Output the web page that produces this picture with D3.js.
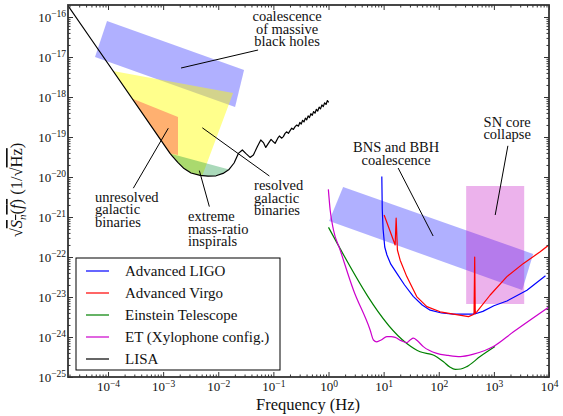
<!DOCTYPE html>
<html>
<head>
<meta charset="utf-8">
<script src="https://cdn.jsdelivr.net/npm/d3@7"></script>
<style>
  body { margin: 0; background: #fff; }
</style>
</head>
<body>
<svg id="chart" width="563" height="416"></svg>
<script>
// all points are [log10(frequency / Hz), log10(sqrt(Sn))]

const lisa = [[-4.8,-15.57],[-4.296,-16.575],[-2.966,-19.228],[-2.875,-19.41],[-2.838,-19.47],[-2.730,-19.64],
  [-2.621,-19.79],[-2.494,-19.90],[-2.33,-19.96],[-2.185,-19.98],[-2.04,-19.97],[-1.913,-19.91],[-1.804,-19.81],
  [-1.713,-19.65],[-1.635,-19.41],[-1.563,-19.325],[-1.501,-19.41],[-1.423,-19.51],[-1.363,-19.45],[-1.290,-19.24],
  [-1.229,-19.075],[-1.181,-19.14],[-1.138,-19.26],[-1.091,-19.16],[-1.042,-19.06],[-1.000,-19.12],[-0.969,-19.16],
  [-0.920,-19.03],[-0.891,-18.975],[-0.848,-19.03],[-0.819,-18.99],[-0.788,-18.91],[-0.757,-18.87],[-0.728,-18.91],
  [-0.697,-18.84],[-0.667,-18.78],[-0.637,-18.81],[-0.606,-18.74],[-0.576,-18.70],[-0.546,-18.73],
  [-0.52,-18.637],[-0.495,-18.679],[-0.47,-18.582],[-0.445,-18.624],[-0.42,-18.527],[-0.395,-18.570],
  [-0.37,-18.472],[-0.345,-18.515],[-0.32,-18.418],[-0.295,-18.460],[-0.27,-18.363],[-0.245,-18.405],
  [-0.22,-18.308],[-0.195,-18.351],[-0.17,-18.253],[-0.145,-18.296],[-0.12,-18.199],[-0.095,-18.241],
  [-0.07,-18.144],[-0.045,-18.187],[-0.02,-18.089],[0.005,-18.132]];

const advLigo = [[0.967,-19.99],[0.975,-20.8],[0.99,-21.3],[1.02,-21.75],[1.06,-21.95],[1.13,-22.18],[1.24,-22.41],
  [1.38,-22.70],[1.541,-22.99],[1.70,-23.20],[1.844,-23.33],[2.05,-23.40],[2.267,-23.43],[2.64,-23.43],[2.655,-23.34],
  [2.665,-23.42],[2.8,-23.36],[3.0,-23.22],[3.236,-23.10],[3.6,-22.83],[3.936,-22.47]];

const advVirgo = [[1.009,-20.95],[1.209,-21.70],[1.227,-21.03],[1.25,-21.825],[1.30,-22.08],[1.42,-22.49],
  [1.60,-22.99],[1.784,-23.24],[2.025,-23.37],[2.267,-23.43],[2.54,-23.49],[2.64,-23.43],[2.652,-22.0],
  [2.662,-23.41],[2.69,-23.37],[2.933,-22.95],[3.236,-22.49],[3.537,-22.16],[3.84,-21.87],[4.02,-21.675]];

const einstein = [[0.0,-21.26],[1.42,-24.16],[1.662,-24.37],[1.90,-24.45],[2.086,-24.62],[2.20,-24.75],
  [2.30,-24.81],[2.40,-24.80],[2.51,-24.74],[2.75,-24.49],[3.02,-24.24]];

const etXylophone = [[-0.003,-20.31],[0.03,-20.825],[0.09,-21.325],[0.211,-21.825],[0.452,-22.825],[0.755,-23.825],
  [0.815,-24.075],[0.875,-24.12],[0.955,-24.075],[1.058,-23.99],[1.136,-23.99],[1.21,-24.01],[1.318,-24.09],
  [1.42,-24.14],[1.48,-24.075],[1.54,-24.03],[1.608,-24.09],[1.72,-24.24],[1.965,-24.41],[2.17,-24.46],
  [2.39,-24.49],[2.63,-24.43],[2.99,-24.24],[3.356,-23.87],[4.01,-23.24]];

// source regions
const massiveBH = [[-4.018,-16.10],[-1.532,-17.325],[-1.695,-18.25],[-4.236,-17.0]];
const resolvedGB = [[-3.909,-17.347],[-1.731,-17.90],[-2.285,-19.95],[-2.33,-19.96],[-2.494,-19.90],[-2.621,-19.79],
  [-2.730,-19.64],[-2.838,-19.47],[-2.875,-19.41],[-2.966,-19.228]];
const unresolvedGB = [[-3.564,-18.035],[-2.730,-18.50],[-2.730,-19.45],[-2.875,-19.41]];
const emri = [[-2.875,-19.41],[-1.804,-19.81],[-1.913,-19.91],[-2.04,-19.97],[-2.185,-19.98],[-2.33,-19.96],
  [-2.494,-19.90],[-2.621,-19.79],[-2.730,-19.64],[-2.838,-19.47]];
const bnsBBH = [[0.265,-20.25],[3.713,-21.925],[3.514,-22.825],[0.011,-21.10]];
const snCollapse = [[2.497,-20.225],[3.55,-20.225],[3.55,-23.175],[2.497,-23.175]];

const seriesNames = ["Advanced LIGO", "Advanced Virgo", "Einstein Telescope", "ET (Xylophone config.)", "LISA"];
const xTickExps = [-4, -3, -2, -1, 0, 1, 2, 3, 4];
const yTickExps = [-25, -24, -23, -22, -21, -20, -19, -18, -17, -16];

const labels = [
  {lines: ["coalescence", "of massive", "black holes"], at: [-0.751, -16.10], anchor: "middle", from: [-2.675, -17.275], to: [-1.278, -16.825]},
  {lines: ["resolved", "galactic", "binaries"], at: [-1.350, -20.325], anchor: "start", from: [-2.289, -18.77], to: [-1.073, -19.975]},
  {lines: ["unresolved", "galactic", "binaries"], at: [-4.236, -20.62], anchor: "start", from: [-2.906, -18.78], to: [-3.541, -20.28]},
  {lines: ["extreme", "mass-ratio", "inspirals"], at: [-2.548, -21.10], anchor: "start", from: [-2.343, -19.84], to: [-2.162, -20.74]},
  {lines: ["BNS and BBH", "coalescence"], at: [1.227, -19.38], anchor: "middle", from: [1.263, -19.775], to: [1.898, -21.475]},
  {lines: ["SN core", "collapse"], at: [3.241, -18.74], anchor: "middle", from: [3.254, -19.22], to: [3.024, -20.95]}
];

const W = 563, H = 416;
const margin = {top: 5, right: 14, bottom: 39, left: 68};
const serif = "Liberation Serif";

const x = d3.scaleLog().domain([Math.pow(10, -4.726), 1e4]).range([margin.left, W - margin.right]);
const y = d3.scaleLog().domain([1e-25, Math.pow(10, -15.7)]).range([H - margin.bottom, margin.top]);
const px = d => x(Math.pow(10, d[0]));
const py = d => y(Math.pow(10, d[1]));

const svg = d3.select("#chart");

svg.append("clipPath").attr("id", "plotClip")
  .append("rect")
  .attr("x", margin.left).attr("y", margin.top)
  .attr("width", W - margin.left - margin.right)
  .attr("height", H - margin.top - margin.bottom);

const plot = svg.append("g").attr("clip-path", "url(#plotClip)");

const poly = d => "M" + d.map(p => px(p) + "," + py(p)).join("L") + "Z";

// regions, in the order they are stacked
const regions = [
  {data: massiveBH, fill: "rgba(0,0,255,0.31)"},
  {data: resolvedGB, fill: "rgba(255,255,0,0.45)"},
  {data: unresolvedGB, fill: "#ffb070"},
  {data: emri, fill: "rgba(6,144,52,0.34)"},
  {data: bnsBBH, fill: "rgba(0,0,255,0.31)"},
  {data: snCollapse, fill: "rgba(191,0,191,0.3)"}
];
regions.forEach(r => {
  plot.append("path").attr("d", poly(r.data)).attr("fill", r.fill).attr("stroke", "none");
});

// pointer lines of the labels
labels.forEach(l => {
  plot.append("line")
    .attr("x1", px(l.from)).attr("y1", py(l.from))
    .attr("x2", px(l.to)).attr("y2", py(l.to))
    .attr("stroke", "#000").attr("stroke-width", 1);
});

const series = [
  {data: advLigo, color: "#0000ff", curve: d3.curveLinear},
  {data: advVirgo, color: "#ff0000", curve: d3.curveLinear},
  {data: einstein, color: "#008000", curve: d3.curveMonotoneX},
  {data: etXylophone, color: "#cc00cc", curve: d3.curveMonotoneX},
  {data: lisa, color: "#000000", curve: d3.curveLinear}
];

series.forEach(s => {
  const line = d3.line().x(px).y(py).curve(s.curve);
  plot.append("path")
    .attr("d", line(s.data))
    .attr("fill", "none")
    .attr("stroke", s.color)
    .attr("stroke-width", 1.2)
    .attr("stroke-linejoin", "round");
});

// text of the labels
labels.forEach(l => {
  l.lines.forEach((s, i) => {
    svg.append("text")
      .attr("x", px(l.at)).attr("y", py(l.at) + i * 12.6)
      .attr("text-anchor", l.anchor)
      .style("font-family", serif)
      .style("font-size", "14.5px")
      .attr("fill", "#111")
      .text(s);
  });
});

// axes
const minorTicks = (lo, hi) => {
  const out = [];
  for (let e = lo; e <= hi; e++) {
    for (let m = 2; m <= 9; m++) out.push(m * Math.pow(10, e));
  }
  return out;
};
const xMajor = xTickExps.map(e => Math.pow(10, e));
const yMajor = yTickExps.map(e => Math.pow(10, e));
const xMinor = minorTicks(-5, 3).filter(v => v >= x.domain()[0] && v <= x.domain()[1]);
const yMinor = minorTicks(-25, -16).filter(v => v >= y.domain()[0] && v <= y.domain()[1]);

const axisColor = "#333";

function drawAxis(axisFn, scale, pos, transform, labelled) {
  const maj = svg.append("g").attr("transform", transform)
    .call(axisFn(scale).tickValues(pos.major).tickSize(-5).tickPadding(4).tickFormat(labelled ? (d => d) : ""));
  const mnr = svg.append("g").attr("transform", transform)
    .call(axisFn(scale).tickValues(pos.minor).tickSize(-2.5).tickFormat(""));
  [maj, mnr].forEach(g => {
    g.select(".domain").remove();
    g.selectAll(".tick line").attr("stroke", axisColor).attr("stroke-width", 1);
  });
  return maj;
}

const bottomAxis = drawAxis(d3.axisBottom, x, {major: xMajor, minor: xMinor}, `translate(0,${H - margin.bottom})`, true);
drawAxis(d3.axisTop, x, {major: xMajor, minor: xMinor}, `translate(0,${margin.top})`, false);
const leftAxis = drawAxis(d3.axisLeft, y, {major: yMajor, minor: yMinor}, `translate(${margin.left},0)`, true);
drawAxis(d3.axisRight, y, {major: yMajor, minor: yMinor}, `translate(${W - margin.right},0)`, false);

function powerLabel(g) {
  g.selectAll(".tick text").each(function (d) {
    const t = d3.select(this);
    const e = Math.round(Math.log10(d));
    t.text(null).style("font-family", serif).style("font-size", "13px").attr("fill", "#111");
    t.append("tspan").text("10");
    t.append("tspan").attr("dy", "-0.45em").style("font-size", "9.5px").text(String(e).replace("-", "\u2212"));
  });
}
powerLabel(bottomAxis);
powerLabel(leftAxis);
bottomAxis.selectAll(".tick text").attr("dy", "0.8em");
leftAxis.selectAll(".tick text").attr("dx", "2px");

svg.append("rect")
  .attr("x", margin.left).attr("y", margin.top)
  .attr("width", W - margin.left - margin.right)
  .attr("height", H - margin.top - margin.bottom)
  .attr("fill", "none").attr("stroke", axisColor).attr("stroke-width", 1.8);

// axis titles
svg.append("text")
  .attr("x", 308).attr("y", 410)
  .attr("text-anchor", "middle").attr("fill", "#111")
  .style("font-family", serif).style("font-size", "16.5px")
  .text("Frequency (Hz)");

const yl = svg.append("text")
  .attr("transform", "translate(22,190) rotate(-90)")
  .style("font-family", serif).style("font-size", "16.5px")
  .attr("text-anchor", "middle").attr("fill", "#111");
yl.append("tspan").text("\u221A");
const rad = yl.append("tspan").style("text-decoration", "overline");
rad.append("tspan").style("font-style", "italic").text("S");
rad.append("tspan").style("font-style", "italic").style("font-size", "11px").attr("dy", 4).text("n");
rad.append("tspan").attr("dy", -4).text("(");
rad.append("tspan").style("font-style", "italic").text("f");
rad.append("tspan").text(")");
yl.append("tspan").text(" (1/\u221A");
yl.append("tspan").style("text-decoration", "overline").text("Hz");
yl.append("tspan").text(")");

// legend
const legend = svg.append("g");
legend.append("rect")
  .attr("x", 76).attr("y", 258).attr("width", 204).attr("height", 112)
  .attr("fill", "#fff").attr("stroke", "#000").attr("stroke-width", 1);
seriesNames.forEach((name, i) => {
  const ly = 271 + i * 22;
  legend.append("line")
    .attr("x1", 86).attr("x2", 109).attr("y1", ly).attr("y2", ly)
    .attr("stroke", series[i].color).attr("stroke-width", 1.2);
  legend.append("text")
    .attr("x", 125).attr("y", ly + 5)
    .style("font-family", serif).style("font-size", "15px")
    .attr("fill", "#111")
    .text(name);
});
</script>
</body>
</html>
